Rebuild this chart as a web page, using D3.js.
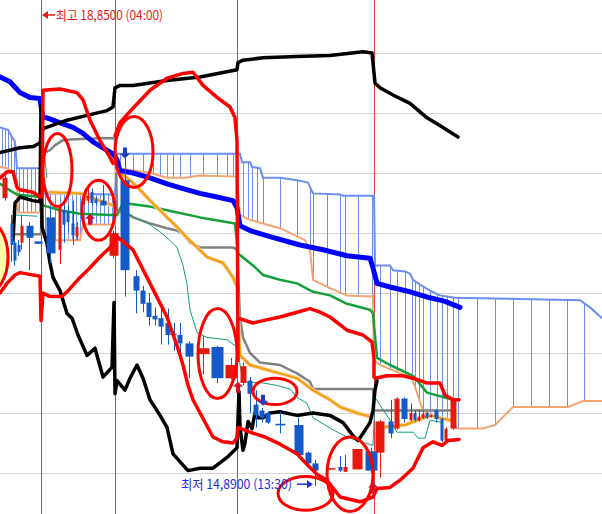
<!DOCTYPE html>
<html><head><meta charset="utf-8">
<script src="https://cdn.jsdelivr.net/npm/d3@7"></script>
<style>body{margin:0;background:#fff}svg{display:block}</style>
</head><body>
<script>
const W = 602, H = 514;

// ---------- data ----------
const priceTicks = [15, 15.5, 16, 16.5, 17, 17.5, 18, 18.5];
const sessionBreaks = [41, 115, 237, 374];
const highInfo = { t: 41, price: 18.85, label: "최고 18,8500 (04:00)" };
const lowInfo = { t: 315, price: 14.89, label: "최저 14,8900 (13:30)" };

// [time, open, high, low, close]
const candles = [
  [5,17.29,17.51,17.27,17.46],[11,17.08,17.15,16.76,16.90],[14,16.92,16.94,16.73,16.77],
  [18,16.90,16.94,16.81,16.84],[21,16.92,17.15,16.86,17.06],[29,17.06,17.09,16.69,16.96],
  [38,16.93,16.93,16.91,16.91],
  [50,17.13,17.22,16.75,16.83],[60,16.86,17.24,16.74,17.22],[64,17.19,17.27,16.92,17.07],
  [68,17.18,17.23,17.02,17.09],[73,17.08,17.27,16.90,16.98],[77,16.97,17.09,16.94,17.05],
  [84,17.27,17.36,17.23,17.30],[88,17.27,17.37,17.25,17.31],[92,17.34,17.37,17.23,17.25],
  [96,17.28,17.30,17.23,17.25],[103,17.27,17.40,17.23,17.23],[113,16.81,17.02,16.79,17.00],
  [125,17.44,17.63,16.47,16.69],[136,16.64,16.69,16.33,16.52],[143,16.52,16.56,16.34,16.41],
  [149,16.42,16.50,16.23,16.30],[155,16.31,16.38,16.23,16.28],[161,16.29,16.38,16.07,16.22],
  [168,16.25,16.37,16.07,16.15],[174,16.16,16.25,16.02,16.15],[180,16.15,16.25,16.00,16.08],
  [189,16.08,16.10,15.79,15.97],[203,15.99,16.14,15.82,16.04],[217,16.05,16.06,15.75,15.79],
  [231,15.79,15.96,15.78,15.90],
  [243,15.75,15.92,15.73,15.89],[250,15.77,15.80,15.50,15.66],[256,15.57,15.69,15.38,15.48],
  [262,15.52,15.54,15.42,15.46],[268,15.50,15.51,15.41,15.42],[280,15.41,15.51,15.33,15.40],
  [298,15.40,15.46,15.14,15.15],[308,15.17,15.18,15.07,15.08],[315,15.08,15.11,14.89,15.02],
  [330,15.03,15.04,15.03,15.04],[340,15.05,15.14,15.01,15.02],[345,15.01,15.15,15.01,15.05],
  [357,15.03,15.20,15.03,15.20],[371,15.18,15.21,15.00,15.02],
  [380,15.17,15.44,14.96,15.43],[391,15.43,15.61,15.29,15.33],[397,15.37,15.63,15.36,15.62],
  [404,15.62,15.63,15.42,15.45],[411,15.44,15.58,15.43,15.50],[415,15.50,15.52,15.43,15.44],
  [419,15.44,15.53,15.43,15.47],[423,15.46,15.52,15.45,15.49],[427,15.50,15.51,15.45,15.46],
  [431,15.47,15.49,15.46,15.48],[436,15.52,15.53,15.42,15.45],[442,15.45,15.46,15.26,15.27],
  [446,15.27,15.38,15.26,15.37],[453,15.37,15.62,15.36,15.61]
];

// [time, price]
const maBlue = [[0,18.30],[10,18.26],[20,18.17],[30,18.13],[40,18.12],[41,18.06],[43,17.96],[47,17.96],
  [63,17.91],[73,17.88],[83,17.83],[93,17.76],[103,17.71],[113,17.66],[117,17.61],[120,17.52],
  [133,17.50],[150,17.46],[167,17.41],[183,17.37],[200,17.33],[217,17.30],[233,17.27],[237,17.21],
  [240,17.06],[250,17.02],[270,16.97],[300,16.90],[323,16.86],[347,16.81],[370,16.79],[373,16.71],
  [377,16.58],[390,16.55],[410,16.51],[430,16.46],[445,16.43],[460,16.38]];

const lagUpper = [[0,17.67],[20,17.71],[33,17.72],[40,17.75],[43,17.87],[67,17.94],[87,17.98],
  [107,18.02],[113,18.05],[115,18.21],[120,18.23],[133,18.23],[167,18.27],[200,18.30],[237,18.36],
  [238,18.42],[243,18.44],[263,18.46],[297,18.47],[330,18.48],[363,18.51],[372,18.50],[375,18.25],
  [380,18.21],[393,18.15],[410,18.08],[427,17.96],[437,17.91],[458,17.80]];

const lagLower = [[13,16.94],[15,17.25],[20,17.30],[33,17.27],[40,17.26],[41,18.06],[42,17.05],
  [47,16.91],[50,16.75],[53,16.63],[60,16.52],[67,16.33],[72,16.29],[78,16.15],[87,15.98],[95,16.04],
  [103,15.80],[112,15.88],[114,16.42],[115,15.66],[117,15.77],[125,15.69],[130,15.79],[137,15.90],
  [143,15.79],[150,15.61],[160,15.48],[167,15.38],[173,15.16],[188,15.02],[200,15.04],[213,15.04],
  [227,15.13],[237,15.21],[239,15.68],[240,15.38],[243,15.19],[245,15.25],[248,15.43],[252,15.37],
  [255,15.50],[258,15.46],[263,15.46],[270,15.50],[280,15.51],[297,15.48],[313,15.50],[330,15.48],
  [343,15.42],[353,15.31],[358,15.27],[363,15.33],[370,15.42],[373,15.52],[375,15.69],[377,15.77]];

const grayLine = [[13,16.99],[41,16.99],[42,17.66],[50,17.69],[55,17.73],[62,17.77],[70,17.78],
  [100,17.79],[115,17.79],[117,17.19],[127,17.16],[133,17.13],[150,17.08],[167,17.04],[177,17.02],
  [183,17.00],[190,16.92],[200,16.88],[233,16.88],[237,16.86],[240,16.30],[243,16.13],[250,16.00],
  [260,15.92],[280,15.90],[297,15.83],[310,15.76],[313,15.70],[373,15.70],[374,15.52],[451,15.52]];

const greenLine = [[0,17.41],[7,17.37],[17,17.32],[40,17.30],[43,17.23],[60,17.19],[80,17.16],
  [112,17.15],[117,17.15],[123,17.25],[150,17.22],[167,17.19],[200,17.13],[235,17.08],[238,16.83],
  [253,16.73],[263,16.65],[280,16.61],[297,16.58],[313,16.51],[330,16.48],[347,16.41],[370,16.36],
  [373,16.33],[377,15.96],[390,15.90],[413,15.81],[427,15.67],[453,15.61]];

const tealLine = [[15,17.15],[37,17.14],null,[43,17.69],[45,17.60],[47,17.46],null,
  [125,17.18],[137,17.12],[150,17.07],[160,17.01],[167,16.96],[177,16.88],[183,16.73],[187,16.57],
  [190,16.36],[197,16.17],[207,16.13],[217,16.12],[227,16.11],[237,16.05],[243,15.76],[263,15.75],
  [277,15.73],[290,15.70],[297,15.63],[307,15.58],[313,15.46],[323,15.41],[333,15.36],[347,15.30],
  [357,15.27],[373,15.23],[375,15.63],[390,15.44],[397,15.34],[413,15.34],[418,15.29],[425,15.29],
  [430,15.44],[443,15.42]];

const amberLine = [[50,17.34],[80,17.33],[100,17.27],[113,17.23],null,[117,17.52],[130,17.44],
  [140,17.36],[150,17.27],[160,17.19],[167,17.13],[177,17.05],[187,16.96],[197,16.88],[207,16.80],
  [223,16.75],[233,16.63],[237,16.55],[240,15.98],[250,15.90],[280,15.83],[297,15.79],[313,15.69],
  [330,15.61],[340,15.55],[357,15.50],[370,15.47],null,[378,15.38],[405,15.40],[430,15.48],[450,15.44]];

const cloudA = [[0,17.88],[8,17.86],[12,17.80],[15,17.76],[17,17.54],[40,17.54],[41,17.54],[43,17.33],
  [115,17.32],[117,17.66],[240,17.66],[242,17.59],[250,17.59],[252,17.55],[260,17.54],[263,17.46],
  [280,17.46],[297,17.44],[308,17.42],[313,17.33],[340,17.32],[343,17.31],[374,17.31],[375,16.73],
  [390,16.73],[393,16.69],[405,16.68],[410,16.66],[413,16.61],[420,16.57],[430,16.52],[440,16.48],
  [455,16.46],[580,16.44],[590,16.38],[602,16.29]];

const cloudB = [[0,17.55],[7,17.54],[13,17.51],[17,17.44],[18,17.17],[40,17.17],[42,17.17],[43,16.98],
  [55,16.94],[80,16.94],[83,17.07],[112,17.07],[115,17.07],[117,17.54],[150,17.50],[167,17.46],
  [185,17.46],[200,17.48],[237,17.47],[240,17.15],[250,17.11],[280,17.04],[305,16.94],[310,16.86],
  [313,16.61],[330,16.54],[347,16.48],[370,16.47],[373,16.48],[374,15.94],[380,15.90],[412,15.79],
  [423,15.52],[437,15.46],[450,15.44],[456,15.38],[458,15.37],[482,15.37],[495,15.40],[513,15.55],
  [568,15.55],[583,15.60],[602,15.60]];

const hatchTimes = [2,5,8,11,14,16,19,23,27,31,35,39,45,50,55,60,64,68,72,76,80,84,88,92,96,100,104,108,112,
  120,125,133,143,153,160,167,173,180,190,203,217,227,233,243,248,252,257,263,280,297,310,313,327,340,345,
  358,372,380,390,397,405,412,415,419,423,430,437,442,447,453,458,477,495,513,531,549,567,584];

const upperBand = [[0,17.46],[7,17.51],[13,17.51],[17,17.38],[20,17.36],[33,17.34],[40,17.30],[42,17.30],
  [43,18.19],[60,18.20],[77,18.17],[83,18.11],[90,17.94],[100,17.77],[110,17.63],[113,17.58],null,
  [115,17.81],[120,17.92],[133,18.04],[150,18.19],[167,18.29],[183,18.33],[193,18.34],[203,18.23],
  [217,18.13],[230,18.05],[235,17.96],[237,17.77],[238,15.94],null,[238,16.29],[253,16.25],[263,16.27],
  [280,16.30],[297,16.34],[310,16.37],[320,16.34],[330,16.30],[347,16.19],[363,16.15],[372,16.09],
  [374,15.96],[374,15.80],[375,15.79],[387,15.81],[403,15.81],[413,15.79],[427,15.75],[440,15.75],
  [445,15.65],[453,15.61],[459,15.61]];

const lowerBand = [[0,16.50],[7,16.58],[15,16.65],[20,16.67],[40,16.64],[41,16.27],[43,16.50],[50,16.47],
  [62,16.47],[67,16.51],[80,16.63],[90,16.71],[100,16.80],[110,16.88],[115,16.94],[117,16.97],
  [133,16.86],[150,16.58],[167,16.30],[177,16.06],[183,15.90],[188,15.73],[193,15.61],[200,15.50],
  [213,15.30],[223,15.26],[233,15.25],[237,15.29],[238,15.38],[250,15.34],[265,15.30],[280,15.24],
  [297,15.16],[307,15.07],[317,14.99],[327,14.94],[340,14.80],[360,14.76],[373,14.80],[377,14.87],
  [390,14.88],[400,14.94],[413,15.04],[423,15.21],[433,15.26],[442,15.23],[448,15.27],[459,15.28]];

// hand-drawn ellipses: [t0, t1, priceTop, priceBottom]
const ellipses = [[43,72,17.83,17.22],[82,115,17.44,16.94],[115,153,17.97,17.38],[198,237,16.37,15.62],
  [253,297,15.79,15.57],[278,333,14.97,14.69],[327,373,15.30,14.68]];
const yellowEllipse = [-37,8,17.11,16.49];

// signal arrows: [time, price(tip), direction]
const signals = [[90,17.16,"up"],[125,17.62,"down"],[263,15.56,"down"],[238,15.76,"up"],[373,14.92,"up"]];

// ---------- drawing ----------
const svg = d3.select("body").append("svg").attr("width", W).attr("height", H);
svg.append("rect").attr("width", W).attr("height", H).attr("fill", "#fff");

const x = d3.scaleLinear().domain([0, 602]).range([0, W]);
const y = d3.scaleLinear().domain([15, 18.5]).range([473, 53]);

// grid via axis
const grid = svg.append("g").call(d3.axisRight(y).tickValues(priceTicks).tickSize(W).tickFormat(""));
grid.select(".domain").remove();
grid.selectAll("line").attr("stroke", "#d4d4d4");

// session lines
svg.append("g").selectAll("line").data(sessionBreaks).join("line")
  .attr("x1", d => x(d) + 0.5).attr("x2", d => x(d) + 0.5).attr("y1", 0).attr("y2", H)
  .attr("stroke", "#e23c3c").attr("stroke-width", 1);

const line = d3.line().defined(d => d != null).x(d => x(d[0])).y(d => y(d[1]));
function draw(data, color, width, opts = {}) {
  return svg.append("path").datum(data).attr("d", line).attr("fill", "none")
    .attr("stroke", color).attr("stroke-width", width)
    .attr("stroke-linejoin", opts.join || "round").attr("stroke-linecap", opts.cap || "round");
}
function valAt(series, t) {
  for (let i = 0; i < series.length - 1; i++) {
    const a = series[i], b = series[i + 1];
    if (t >= a[0] && t <= b[0]) {
      if (b[0] === a[0]) return a[1];
      return a[1] + (b[1] - a[1]) * (t - a[0]) / (b[0] - a[0]);
    }
  }
  return null;
}

// cloud hatch
svg.append("g").selectAll("line").data(hatchTimes).join("line")
  .attr("x1", d => x(d) + 0.5).attr("x2", d => x(d) + 0.5)
  .attr("y1", d => y(valAt(cloudA, d))).attr("y2", d => y(valAt(cloudB, d)))
  .attr("stroke", "#6b8ef0").attr("stroke-width", 1);
draw(cloudB, "#f5a370", 2, {join: "miter", cap: "butt"});
draw(cloudA, "#6b8ef0", 2, {join: "miter", cap: "butt"});

draw(greenLine, "#14a03a", 2.5);
draw(grayLine, "#808080", 2.5);
draw(amberLine, "#f9cba6", 4);
draw(amberLine, "#f0a000", 2);
draw(tealLine, "#13a07c", 1);
draw(maBlue, "#0000ff", 5);
draw(lagUpper, "#000", 3.5);
draw(lagLower, "#000", 3.5);

// candles
const sessionOf = t => d3.bisectRight(sessionBreaks, t);
const cw = candles.map((c, i) => {
  const s = sessionOf(c[0]); const gaps = [];
  if (i > 0 && sessionOf(candles[i-1][0]) === s) gaps.push(c[0] - candles[i-1][0]);
  if (i < candles.length - 1 && sessionOf(candles[i+1][0]) === s) gaps.push(candles[i+1][0] - c[0]);
  const g = gaps.length ? d3.min(gaps) : 8;
  return Math.max(2, Math.min(13, g * 0.85));
});
const upColor = "#e8180c", downColor = "#1459c8";
const cg = svg.append("g").selectAll("g").data(candles).join("g");
cg.append("line").attr("x1", d => Math.round(x(d[0])) + 0.5).attr("x2", d => Math.round(x(d[0])) + 0.5)
  .attr("y1", d => y(d[2])).attr("y2", d => y(d[3]))
  .attr("stroke", d => d[4] >= d[1] ? upColor : downColor).attr("stroke-width", 1);
cg.append("rect")
  .attr("x", (d, i) => Math.round(x(d[0]) - cw[i] / 2) + 0.5)
  .attr("width", (d, i) => Math.round(cw[i]))
  .attr("y", d => y(Math.max(d[1], d[4])))
  .attr("height", d => Math.max(1.5, Math.abs(y(d[1]) - y(d[4]))))
  .attr("fill", d => d[4] >= d[1] ? upColor : downColor);

// bands
draw(upperBand, "#ff0000", 3.5);
draw(lowerBand, "#ff0000", 3.5);

// ellipses
svg.append("ellipse")
  .attr("cx", x((yellowEllipse[0] + yellowEllipse[1]) / 2)).attr("cy", y((yellowEllipse[2] + yellowEllipse[3]) / 2))
  .attr("rx", (x(yellowEllipse[1]) - x(yellowEllipse[0])) / 2).attr("ry", (y(yellowEllipse[3]) - y(yellowEllipse[2])) / 2)
  .attr("fill", "#ffffa8").attr("stroke", "#ff0000").attr("stroke-width", 3);
svg.append("g").selectAll("ellipse").data(ellipses).join("ellipse")
  .attr("cx", d => x((d[0] + d[1]) / 2)).attr("cy", d => y((d[2] + d[3]) / 2))
  .attr("rx", d => (x(d[1]) - x(d[0])) / 2).attr("ry", d => (y(d[3]) - y(d[2])) / 2)
  .attr("fill", "none").attr("stroke", "#ff0000").attr("stroke-width", 3);

// signal arrows
svg.append("g").selectAll("path").data(signals).join("path")
  .attr("transform", d => `translate(${x(d[0])},${y(d[1])})${d[2] === "down" ? " scale(1,-1)" : ""}`)
  .attr("d", "M0,0 L5,5 L2,5 L2,11 L-2,11 L-2,5 L-5,5 Z")
  .attr("fill", d => d[2] === "up" ? "#d8102a" : "#1a3cc8");

// high label
const hy = y(highInfo.price) + 4;
const hx = x(highInfo.t);
svg.append("path").attr("d", `M${hx+1},${hy} L${hx+7},${hy-4} L${hx+7},${hy+4} Z`).attr("fill", "#e81818");
svg.append("line").attr("x1", hx + 6).attr("x2", hx + 14).attr("y1", hy).attr("y2", hy).attr("stroke", "#e81818").attr("stroke-width", 1.5);
svg.append("text").attr("x", hx + 15).attr("y", hy + 4.5)
  .attr("font-family", "'Noto Sans CJK KR', 'Noto Sans', sans-serif").attr("font-size", 13)
  .attr("fill", "#e81818").attr("textLength", 107).attr("lengthAdjust", "spacingAndGlyphs").text(highInfo.label);

// low label
const ly = y(lowInfo.price) - 2;
const lx = x(lowInfo.t);
svg.append("text").attr("x", lx - 23).attr("y", ly + 4.5).attr("text-anchor", "end")
  .attr("font-family", "'Noto Sans CJK KR', 'Noto Sans', sans-serif").attr("font-size", 13)
  .attr("fill", "#1c2ee0").attr("textLength", 111).attr("lengthAdjust", "spacingAndGlyphs").text(lowInfo.label);
svg.append("line").attr("x1", lx - 18).attr("x2", lx - 7).attr("y1", ly).attr("y2", ly).attr("stroke", "#1c2ee0").attr("stroke-width", 1.5);
svg.append("path").attr("d", `M${lx-2},${ly} L${lx-8},${ly-4} L${lx-8},${ly+4} Z`).attr("fill", "#1c2ee0");
</script>
</body></html>
